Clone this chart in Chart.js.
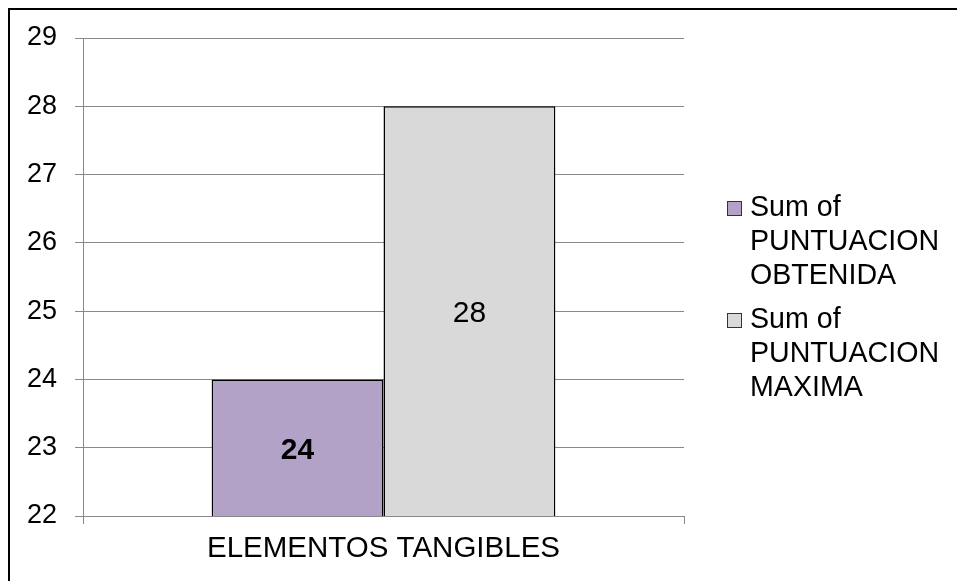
<!DOCTYPE html>
<html>
<head>
    <title>Elementos tangibles</title>
    <script src="https://cdn.jsdelivr.net/npm/chart.js"></script>
    <style>
        body { margin: 0; background: #fff; }
        #box { position: relative; width: 957px; height: 581px; }
    </style>
</head>
<body>
    <div id="box"><canvas id="scoreChart"></canvas></div>
    <script type="text/javascript">
        var categories = ['ELEMENTOS TANGIBLES'];
        var seriesNames = [
            ['Sum of', 'PUNTUACION', 'OBTENIDA'],
            ['Sum of', 'PUNTUACION', 'MAXIMA']
        ];
        var obtenida = [24];
        var maxima = [28];
        var yTicks = [22, 23, 24, 25, 26, 27, 28, 29];

        var FONT = '"Liberation Sans", Arial, sans-serif';
        var labelWeights = ['bold', 'normal'];

        // frame line along the top and left edge
        var framePlugin = {
            id: 'frame',
            beforeDraw: function(chart) {
                var c = chart.ctx;
                c.save();
                c.fillStyle = '#fff';
                c.fillRect(0, 0, chart.width, chart.height);
                c.fillStyle = '#000';
                c.fillRect(8, 8, chart.width, 2);
                c.fillRect(8, 8, 2, chart.height);
                c.restore();
            }
        };

        // value printed in the middle of each bar
        var valueLabels = {
            id: 'valueLabels',
            afterDraw: function(chart) {
                var c = chart.ctx;
                var yScale = chart.scales.y;
                var basePx = yScale.getPixelForValue(yScale.min);
                c.save();
                c.fillStyle = '#000';
                c.textAlign = 'center';
                c.textBaseline = 'middle';
                chart.data.datasets.forEach(function(ds, i) {
                    var meta = chart.getDatasetMeta(i);
                    c.font = labelWeights[i] + ' 30px ' + FONT;
                    meta.data.forEach(function(bar, j) {
                        var v = ds.data[j];
                        var topPx = yScale.getPixelForValue(v);
                        c.fillText(String(v), bar.x, (topPx + basePx) / 2 + 3);
                    });
                });
                c.restore();
            }
        };

        // legend on the right with wrapped labels
        var sideLegend = {
            id: 'sideLegend',
            afterDraw: function(chart, args, opts) {
                var c = chart.ctx;
                c.save();
                c.font = '28.6px ' + FONT;
                c.textBaseline = 'middle';
                c.textAlign = 'left';
                chart.data.datasets.forEach(function(ds, i) {
                    var y0 = opts.top + i * opts.itemGap;
                    c.fillStyle = ds.backgroundColor;
                    c.fillRect(opts.x, y0 - 7, 15, 15);
                    c.strokeStyle = '#333';
                    c.lineWidth = 1;
                    c.strokeRect(opts.x + 0.5, y0 - 6.5, 14, 14);
                    c.fillStyle = '#000';
                    seriesNames[i].forEach(function(line, k) {
                        c.fillText(line, opts.x + 23, y0 + k * opts.lineHeight);
                    });
                });
                c.restore();
            }
        };

        var ctx = document.getElementById('scoreChart').getContext('2d');
        var chart = new Chart(ctx, {
            type: 'bar',
            data: {
                labels: categories,
                datasets: [{
                    label: seriesNames[0].join(' '),
                    data: obtenida,
                    backgroundColor: '#B3A2C7',
                    borderColor: '#000',
                    borderWidth: 1.5
                }, {
                    label: seriesNames[1].join(' '),
                    data: maxima,
                    backgroundColor: '#D9D9D9',
                    borderColor: '#000',
                    borderWidth: 1.5
                }]
            },
            options: {
                responsive: true,
                maintainAspectRatio: false,
                animation: false,
                layout: { padding: { top: 38, right: 273, left: 0, bottom: 0 } },
                datasets: {
                    bar: { categoryPercentage: 0.572, barPercentage: 1 }
                },
                scales: {
                    x: {
                        grid: { drawOnChartArea: false, color: '#888', tickLength: 8 },
                        border: { color: '#888' },
                        ticks: { color: '#000', padding: 7, font: { family: FONT, size: 29.5 } },
                        afterFit: function(scale) { scale.height = 65; }
                    },
                    y: {
                        min: 22,
                        max: 29,
                        afterBuildTicks: function(scale) {
                            scale.ticks = yTicks.map(function(v) { return { value: v }; });
                        },
                        grid: { color: '#888', tickLength: 8 },
                        border: { color: '#888' },
                        ticks: { color: '#000', padding: 18, font: { family: FONT, size: 27 } },
                        afterFit: function(scale) { scale.width = 83; }
                    }
                },
                plugins: {
                    legend: { display: false },
                    tooltip: { enabled: false },
                    sideLegend: { x: 727, top: 208, itemGap: 112, lineHeight: 34 }
                }
            },
            plugins: [framePlugin, valueLabels, sideLegend]
        });
    </script>
</body>
</html>
